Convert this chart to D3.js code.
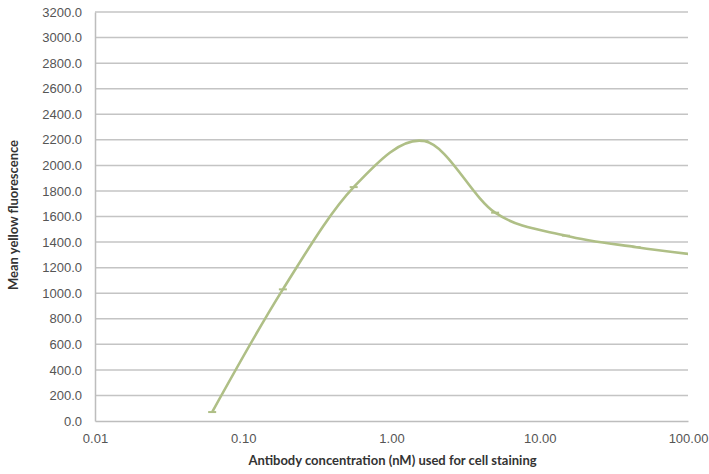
<!DOCTYPE html>
<html>
<head>
<meta charset="utf-8">
<script src="https://cdn.jsdelivr.net/npm/d3@7"></script>
<style>
  body { margin: 0; background: #fff; }
  svg { display: block; font-family: Lato, "Open Sans", sans-serif; }
</style>
</head>
<body>
<div id="chart"></div>
<script>
// Dados (diluições de 3x)
const concentrations = [0.0617, 0.185, 0.556, 1.667, 5, 15, 45, 135];
const fluorescence = [70, 1030, 1830, 2190, 1630, 1450, 1360, 1290];
const xTicks = [0.01, 0.1, 1, 10, 100];
const xTickLabels = ["0.01", "0.10", "1.00", "10.00", "100.00"];
const yTicks = d3.range(0, 3201, 200);

const width = 709, height = 474;
const margin = { top: 12, right: 21, bottom: 53, left: 95 };
const innerW = width - margin.left - margin.right;
const innerH = height - margin.top - margin.bottom;

const svg = d3.select("#chart").append("svg")
  .attr("width", width)
  .attr("height", height);

const g = svg.append("g")
  .attr("transform", `translate(${margin.left},${margin.top})`);

const x = d3.scaleLog().domain([0.01, 100]).range([0, innerW]);
const y = d3.scaleLinear().domain([0, 3200]).range([innerH, 0]);

// Linhas de grade horizontais
g.append("g")
  .selectAll("line")
  .data(yTicks.filter(d => d > 0))
  .join("line")
  .attr("x1", 0).attr("x2", innerW)
  .attr("y1", d => y(d)).attr("y2", d => y(d))
  .style("stroke", "#c4c4c4")
  .style("stroke-width", 1.5);

// Eixo Y
const yAxis = g.append("g")
  .call(d3.axisLeft(y).tickValues(yTicks).tickFormat(d3.format(".1f")).tickSize(0).tickPadding(13));
yAxis.select(".domain").style("stroke", "#bdbdbd").style("stroke-width", 1.5);
yAxis.selectAll("text").style("font-size", "13px").style("fill", "#555");

// Eixo X
const xAxis = g.append("g")
  .attr("transform", `translate(0,${innerH})`)
  .call(d3.axisBottom(x).tickValues(xTicks).tickFormat((d, i) => xTickLabels[i]).tickSize(0).tickPadding(13));
xAxis.select(".domain").style("stroke", "#bdbdbd").style("stroke-width", 1.5);
xAxis.selectAll("text").style("font-size", "13px").style("fill", "#555");

// Recorte da área do gráfico
svg.append("clipPath").attr("id", "plot-clip")
  .append("rect").attr("width", innerW).attr("height", innerH);

const points = concentrations.map((c, i) => [c, fluorescence[i]]);

const line = d3.line()
  .x(d => x(d[0]))
  .y(d => y(d[1]))
  .curve(d3.curveCardinal.tension(0));

const plot = g.append("g").attr("clip-path", "url(#plot-clip)");

plot.append("path")
  .datum(points)
  .attr("d", line)
  .style("fill", "none")
  .style("stroke", "#afbf86")
  .style("stroke-width", 2.6);

// Marcadores (traços curtos)
plot.selectAll(".marker")
  .data(points)
  .join("line")
  .attr("class", "marker")
  .attr("x1", d => x(d[0]) - 4).attr("x2", d => x(d[0]) + 4)
  .attr("y1", d => y(d[1])).attr("y2", d => y(d[1]))
  .style("stroke", "#afbf86")
  .style("stroke-width", 2);

// Títulos dos eixos
svg.append("text")
  .attr("x", margin.left + x(1) + 1)
  .attr("y", 465)
  .attr("text-anchor", "middle")
  .style("font-size", "13px")
  .style("font-weight", "bold")
  .style("fill", "#333")
  .text("Antibody concentration (nM)  used for cell staining");

svg.append("text")
  .attr("transform", "translate(18,215) rotate(-90)")
  .attr("text-anchor", "middle")
  .style("font-size", "13px")
  .style("font-weight", "bold")
  .style("fill", "#333")
  .text("Mean yellow fluorescence");
</script>
</body>
</html>
